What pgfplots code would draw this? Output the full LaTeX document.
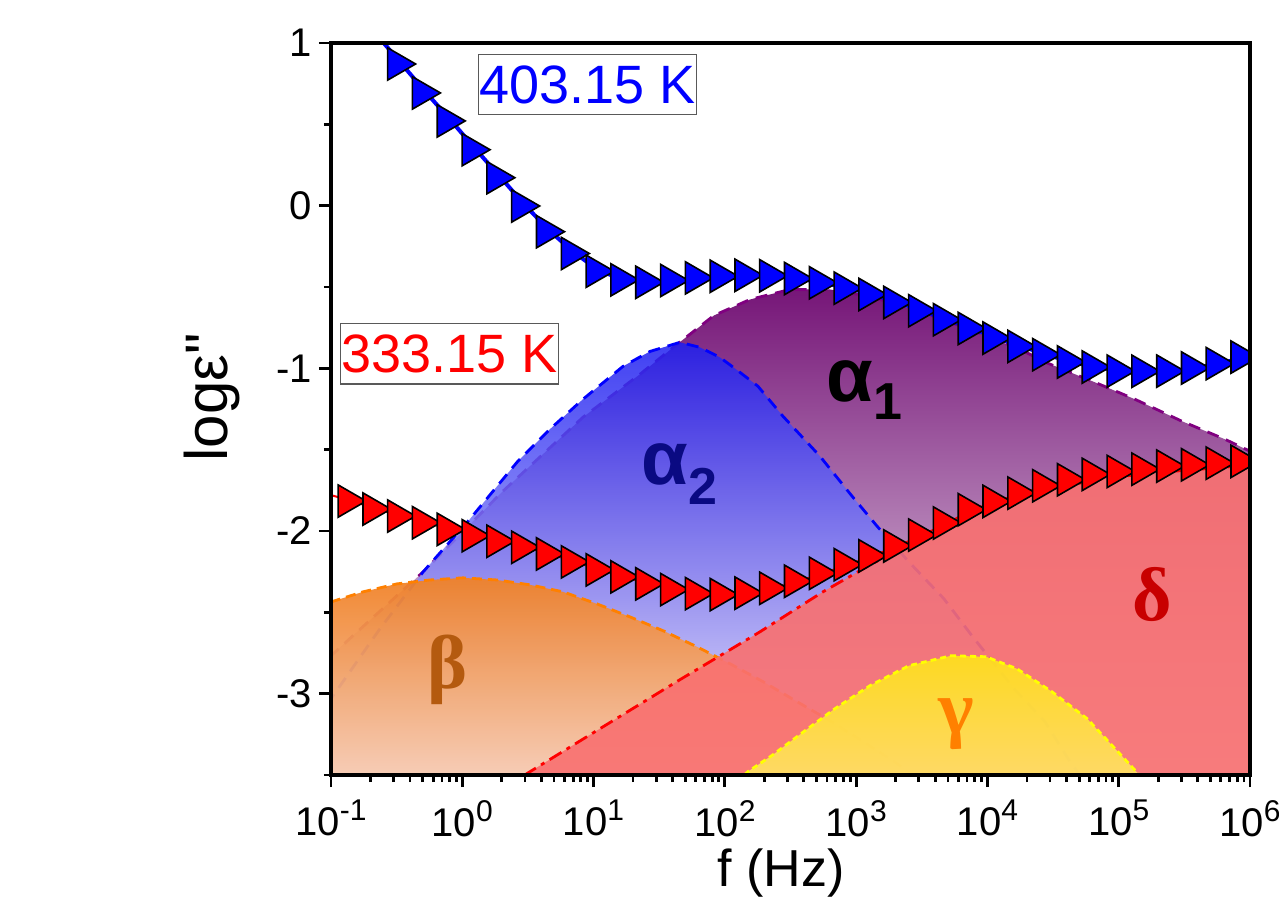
\documentclass[border=0pt]{standalone}
\usepackage{fontspec}
\setmainfont{Liberation Sans}
\newfontfamily\grk{Liberation Serif}
\usepackage{pgfplots}
\usepackage{pgfplotstable}
\pgfplotsset{compat=1.18}

\definecolor{aonetop}{RGB}{118,22,120}
\definecolor{aonebot}{RGB}{240,232,242}
\definecolor{aoneline}{RGB}{128,0,128}
\definecolor{atwotop}{RGB}{30,30,240}
\definecolor{atwobot}{RGB}{240,240,255}
\definecolor{btop}{RGB}{240,130,40}
\definecolor{bbot}{RGB}{248,208,188}
\definecolor{bline}{RGB}{255,128,0}
\definecolor{gtop}{RGB}{255,228,25}
\definecolor{gbot}{RGB}{255,228,110}
\definecolor{gline}{RGB}{255,255,0}
\definecolor{dfill}{RGB}{249,112,112}
\definecolor{dline}{RGB}{255,0,0}
\definecolor{navy}{RGB}{10,10,130}
\definecolor{bbrown}{RGB}{180,90,15}
\definecolor{gorange}{RGB}{255,128,0}
\definecolor{dred}{RGB}{200,0,0}

\newcommand{\sx}[1]{10\raisebox{7.5pt}{\fontsize{15}{16}\selectfont #1}}

\pgfdeclareplotmark{rtri}{%
  \pgfpathmoveto{\pgfqpoint{0.75\pgfplotmarksize}{0pt}}%
  \pgfpathlineto{\pgfqpoint{-0.75\pgfplotmarksize}{0.866\pgfplotmarksize}}%
  \pgfpathlineto{\pgfqpoint{-0.75\pgfplotmarksize}{-0.866\pgfplotmarksize}}%
  \pgfpathclose
  \pgfusepathqfillstroke}

% 403.15 K data (x = log10 f)
\pgfplotstableread{
x y
-0.839 1.227
-0.650 1.049
-0.462 0.871
-0.273 0.693
-0.084 0.521
0.105 0.344
0.294 0.172
0.483 -0.002
0.672 -0.160
0.861 -0.294
1.050 -0.403
1.238 -0.456
1.428 -0.471
1.617 -0.460
1.806 -0.444
1.995 -0.434
2.184 -0.428
2.372 -0.431
2.561 -0.448
2.750 -0.474
2.939 -0.507
3.128 -0.546
3.317 -0.595
3.506 -0.646
3.695 -0.701
3.884 -0.755
4.073 -0.814
4.262 -0.865
4.451 -0.916
4.640 -0.961
4.829 -0.992
5.018 -1.017
5.207 -1.018
5.396 -1.017
5.585 -0.998
5.773 -0.971
5.962 -0.931
}\bluedata

% 333.15 K data
\pgfplotstableread{
x y
-1.028 -1.773
-0.839 -1.816
-0.650 -1.865
-0.462 -1.908
-0.273 -1.949
-0.084 -1.990
0.105 -2.029
0.294 -2.063
0.483 -2.100
0.672 -2.141
0.861 -2.190
1.050 -2.239
1.238 -2.282
1.428 -2.325
1.617 -2.360
1.806 -2.385
1.995 -2.391
2.184 -2.382
2.372 -2.352
2.561 -2.309
2.750 -2.260
2.939 -2.207
3.128 -2.153
3.317 -2.092
3.506 -2.025
3.695 -1.951
3.884 -1.869
4.073 -1.818
4.262 -1.767
4.451 -1.722
4.640 -1.685
4.829 -1.652
5.018 -1.634
5.207 -1.620
5.396 -1.601
5.585 -1.593
5.773 -1.583
5.962 -1.572
}\reddata

\pgfplotstableread{
x y
-1.236 -2.939
-1.000 -2.767
-0.299 -2.252
0.310 -1.755
0.919 -1.301
1.353 -1.037
1.635 -0.853
1.917 -0.675
2.191 -0.577
2.496 -0.515
2.800 -0.515
3.105 -0.558
3.486 -0.650
3.867 -0.761
4.248 -0.883
4.461 -0.969
4.819 -1.086
5.123 -1.190
5.481 -1.325
5.809 -1.436
5.999 -1.509
6.152 -1.571
}\aone

\pgfplotstableread{
x y
-1.236 -3.245
-1.000 -3.031
-0.627 -2.601
-0.299 -2.252
0.059 -1.926
0.417 -1.577
0.668 -1.374
0.919 -1.190
1.224 -0.988
1.430 -0.896
1.658 -0.840
1.810 -0.871
1.963 -0.933
2.085 -1.006
2.252 -1.110
2.442 -1.294
2.724 -1.540
2.968 -1.785
3.158 -1.969
3.402 -2.190
3.669 -2.417
3.882 -2.644
4.202 -2.969
4.438 -3.172
4.628 -3.417
4.781 -3.583
}\atwo

\pgfplotstableread{
x y
-1.236 -2.491
-1.000 -2.436
-0.756 -2.374
-0.497 -2.325
-0.246 -2.301
0.005 -2.288
0.264 -2.301
0.516 -2.331
0.767 -2.374
1.026 -2.448
1.277 -2.528
1.529 -2.613
1.788 -2.712
2.039 -2.816
2.290 -2.926
2.549 -3.049
2.800 -3.166
3.052 -3.294
3.311 -3.429
3.562 -3.583
}\bet

\pgfplotstableread{
x y
2.039 -3.583
2.176 -3.479
2.359 -3.380
2.602 -3.233
2.839 -3.092
3.105 -2.951
3.402 -2.828
3.722 -2.767
3.989 -2.773
4.225 -2.847
4.491 -2.988
4.758 -3.153
4.971 -3.337
5.161 -3.503
5.276 -3.613
}\gam

\pgfplotstableread{
x y
0.287 -3.613
0.493 -3.491
1.049 -3.215
1.658 -2.914
1.963 -2.767
2.267 -2.620
2.747 -2.374
3.105 -2.209
3.402 -2.080
3.714 -1.957
4.095 -1.834
4.476 -1.742
4.857 -1.681
5.238 -1.644
5.618 -1.620
5.999 -1.595
6.150 -1.590
}\del

\begin{document}
\begin{tikzpicture}
\begin{axis}[
  at={(0,0)}, anchor=south west,
  width=459.5pt, height=366pt, scale only axis,
  xmin=-1, xmax=6, ymin=-3.5, ymax=1,
  axis on top,
  clip marker paths=true,
  axis line style={line width=1.75pt},
  xtick={-1,0,1,2,3,4,5,6},
  xticklabels={\sx{-1},\sx{0},\sx{1},\sx{2},\sx{3},\sx{4},\sx{5},\sx{6}},
  minor xtick={-0.699,-0.523,-0.398,-0.301,-0.222,-0.155,-0.097,-0.046,
    0.301,0.477,0.602,0.699,0.778,0.845,0.903,0.954,
    1.301,1.477,1.602,1.699,1.778,1.845,1.903,1.954,
    2.301,2.477,2.602,2.699,2.778,2.845,2.903,2.954,
    3.301,3.477,3.602,3.699,3.778,3.845,3.903,3.954,
    4.301,4.477,4.602,4.699,4.778,4.845,4.903,4.954,
    5.301,5.477,5.602,5.699,5.778,5.845,5.903,5.954},
  ytick={-3,-2,-1,0,1},
  yticklabels={-3,-2,-1,0,1},
  minor ytick={-3.5,-2.5,-1.5,-0.5,0.5},
  tick align=outside,
  tick pos=left,
  major tick length=6pt, minor tick length=3.5pt,
  every tick/.style={black, line width=1.4pt},
  tick label style={font=\fontsize{20}{22}\selectfont},
  xticklabel style={yshift=-3pt},
  xlabel={f (Hz)},
  ylabel={logε\textquotedbl},
  xlabel style={font=\fontsize{26}{30}\selectfont, at={(axis description cs:0.4897,-0.152)}, anchor=base},
  ylabel style={font=\fontsize{30}{34}\selectfont, at={(axis description cs:-0.1295,0.516)}, anchor=center},
]
% alpha1
\addplot[draw=none, top color=aonetop, bottom color=aonebot, forget plot] table {\aone} -- (axis cs:6.152,-3.5) -- (axis cs:-1.236,-3.5) -- cycle;
\addplot[aoneline, line width=1.4pt, dash pattern=on 6pt off 4pt] table {\aone};
% alpha2
\addplot[draw=none, top color=atwotop, bottom color=atwobot, fill opacity=0.85] table {\atwo} -- (axis cs:4.781,-3.5) -- (axis cs:-1.236,-3.5) -- cycle;
\addplot[blue, line width=1.4pt, dash pattern=on 6pt off 4pt] table {\atwo};
% beta
\addplot[draw=none, top color=btop, bottom color=bbot, fill opacity=0.95] table {\bet} -- (axis cs:3.562,-3.5) -- (axis cs:-1.236,-3.5) -- cycle;
\addplot[bline, line width=1.4pt, dash pattern=on 5pt off 3pt] table {\bet};
% delta
\addplot[draw=none, fill=dfill, fill opacity=0.9] table {\del} -- (axis cs:6.15,-3.6) -- cycle;
\addplot[dline, line width=1.4pt, dash pattern=on 7pt off 3pt on 2pt off 3pt] table {\del};
% gamma
\addplot[draw=none, top color=gtop, bottom color=gbot, fill opacity=0.9] table {\gam} -- cycle;
\addplot[gline, line width=1.4pt, dash pattern=on 3pt off 2pt] table {\gam};

% labels
\node[anchor=base west, font=\fontsize{38}{42}\selectfont\bfseries, text=black, inner sep=0pt] at (axis cs:2.770,-1.202) {α\raisebox{-9pt}{\fontsize{26}{28}\selectfont 1}};
\node[anchor=base west, font=\fontsize{38}{42}\selectfont\bfseries, text=navy, inner sep=0pt] at (axis cs:1.362,-1.712) {α\raisebox{-10pt}{\fontsize{26}{28}\selectfont 2}};
\node[anchor=base, font=\fontsize{38}{42}\selectfont\grk\bfseries, text=bbrown, inner sep=0pt] at (axis cs:-0.113,-2.969) {β};
\node[anchor=base, font=\fontsize{38}{42}\selectfont\grk\bfseries, text=gorange, inner sep=0pt] at (axis cs:3.760,-3.245) {γ};
\node[anchor=base, font=\fontsize{38}{42}\selectfont\grk\bfseries, text=dred, inner sep=0pt] at (axis cs:5.253,-2.552) {δ};

% data
\addplot[red, line width=1pt, mark=rtri, mark size=9.33pt, mark options={fill=red, draw=black, line width=0.8pt}] table {\reddata};
\addplot[blue, line width=2pt, mark=rtri, mark size=9.33pt, mark options={fill=blue, draw=black, line width=0.8pt}] table {\bluedata};

\node[draw=black!65, line width=0.7pt, text=blue, font=\fontsize{27}{30}\selectfont, inner xsep=0.5pt, inner ysep=5.5pt, fill=white] at (axis cs:0.9535,0.745) {403.15 K};
\node[draw=black!65, line width=0.7pt, text=red, font=\fontsize{27}{30}\selectfont, inner xsep=0.5pt, inner ysep=5.5pt, fill=white] at (axis cs:-0.0975,-0.911) {333.15 K};
\end{axis}
\pgfresetboundingbox
\path[use as bounding box] ([shift={(-165.5pt,-62pt)}]current axis.south west) rectangle ([shift={(474pt,387.5pt)}]current axis.south west);
\end{tikzpicture}
\end{document}
